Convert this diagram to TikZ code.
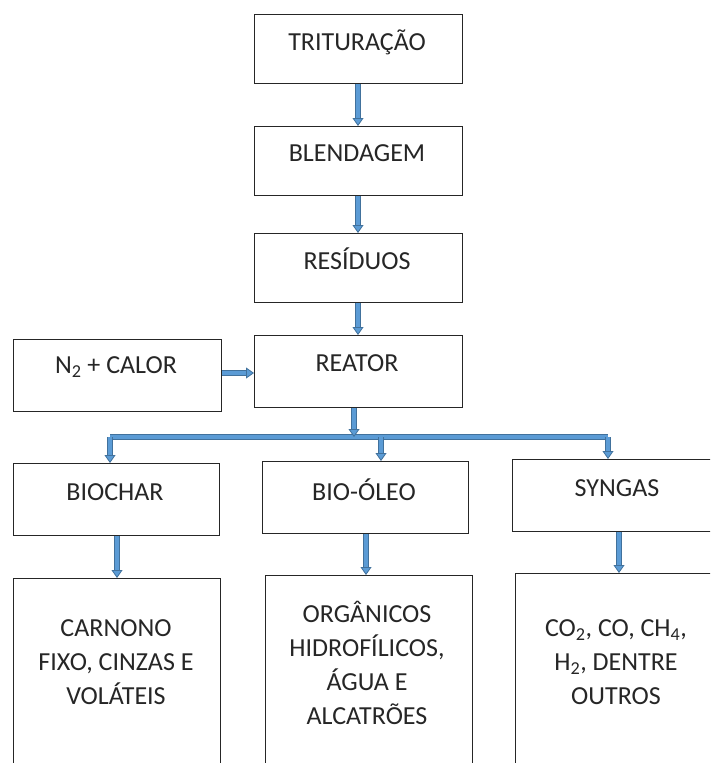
\documentclass[tikz,border=0pt]{standalone}
\usepackage{fontspec}
\setmainfont{Carlito}
\usetikzlibrary{arrows.meta,calc}
\definecolor{arrfill}{HTML}{5B9BD5}
\definecolor{arredge}{HTML}{41719C}
\tikzset{
  box/.style={draw=black!85, line width=1.4pt, fill=white, inner sep=0pt, anchor=north west},
  txt/.style={font=\fontsize{26}{34}\selectfont, text=black!85, align=center, inner sep=0pt},
  flow/.style={line width=4.2pt, draw=arrfill,
    -{Triangle[width=11pt,length=8pt,line width=0.8pt,color=arredge,fill=arrfill]},
    preaction={draw=arredge, line width=5.6pt, arrows=-, shorten >=7pt}},
  branch/.style={line width=4.2pt, draw=arrfill,
    preaction={draw=arredge, line width=5.6pt}},
}
\begin{document}
\begin{tikzpicture}[x=1pt,y=-1pt]
\useasboundingbox (0,0) rectangle (710,763);
\clip (0,0) rectangle (710,763);
% boxes
\node[box, minimum width=208pt, minimum height=69pt] (tri) at (254,14) {};
\node[box, minimum width=208pt, minimum height=69pt] (ble) at (254,126) {};
\node[box, minimum width=208pt, minimum height=69pt] (res) at (254,233) {};
\node[box, minimum width=208pt, minimum height=72pt] (rea) at (254,335) {};
\node[box, minimum width=208pt, minimum height=72pt] (n2) at (13,339) {};
\node[box, minimum width=206pt, minimum height=72pt] (bch) at (13,463) {};
\node[box, minimum width=206pt, minimum height=72pt] (bol) at (262,461) {};
\node[box, minimum width=210pt, minimum height=72pt] (syn) at (512,459) {};
\node[box, minimum width=207pt, minimum height=200pt] (car) at (13,578) {};
\node[box, minimum width=207pt, minimum height=200pt] (org) at (265,575) {};
\node[box, minimum width=210pt, minimum height=200pt] (gas) at (515,573) {};
% texts
\node[txt] (ttri) at (357,42) {TRITURAÇÃO};
\node[txt] (tble) at (357,153) {BLENDAGEM};
\node[txt] (tres) at (357,259) {RESÍDUOS};
\node[txt] (trea) at (357,363) {REATOR};
\node[txt] (tn2) at (116,367) {N\textsubscript{2} + CALOR};
\node[txt] (tbch) at (115,492) {BIOCHAR};
\node[txt] (tbol) at (364,490) {BIO-ÓLEO};
\node[txt] (tsyn) at (617,488) {SYNGAS};
\node[txt] (tcar) at (116,662) {CARNONO\\FIXO, CINZAS E\\VOLÁTEIS};
\node[txt] (torg) at (367,663) {ORGÂNICOS\\HIDROFÍLICOS,\\ÁGUA E\\ALCATRÕES};
\node[txt] (tgas) at (616,662) {CO\textsubscript{2}, CO, CH\textsubscript{4},\\H\textsubscript{2}, DENTRE\\OUTROS};
% branch coordinates
\coordinate (bj) at (354,437);
\coordinate (bl) at (110,437);
\coordinate (bm) at (381,437);
\coordinate (br) at (608,437);
% connectors
\draw[flow] (tri.south -| 358,0) -- (ble.north -| 358,0);
\draw[flow] (ble.south -| 358,0) -- (res.north -| 358,0);
\draw[flow] (res.south -| 358,0) -- (rea.north -| 358,0);
\draw[flow] (n2.east |- 0,373) -- (rea.west |- 0,373);
\draw[branch] (bl) -- (br);
\draw[flow] (rea.south -| bj) -- (bj);
\draw[flow] (bl) -- (bch.north -| bl);
\draw[flow] (bm) -- (bol.north -| bm);
\draw[flow] (br) -- (syn.north -| br);
\draw[flow] (bch.south -| 117,0) -- (car.north -| 117,0);
\draw[flow] (bol.south -| 366,0) -- (org.north -| 366,0);
\draw[flow] (syn.south -| 619,0) -- (gas.north -| 619,0);
\end{tikzpicture}
\end{document}
